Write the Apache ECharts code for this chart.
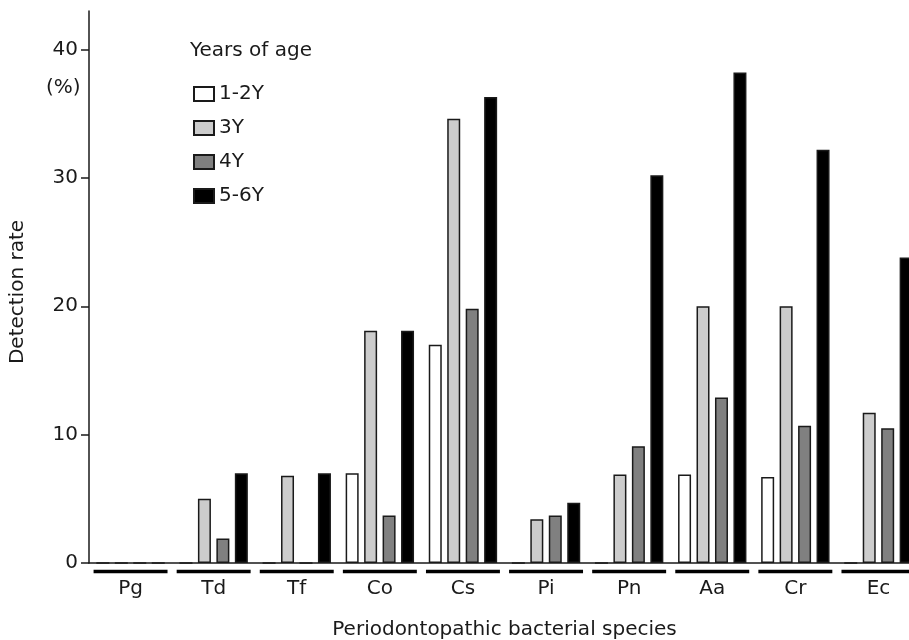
<!DOCTYPE html>
<html>
<head>
<meta charset="utf-8">
<title>Detection rate by age</title>
<script src="https://cdn.jsdelivr.net/npm/echarts@6/dist/echarts.min.js"></script>
<style>
  html, body { margin: 0; padding: 0; background: #fff; }
  #chart { width: 909px; height: 640px; }
</style>
</head>
<body>
<div id="chart"></div>
<script>
// bacterial species (x categories)
var species = ['Pg', 'Td', 'Tf', 'Co', 'Cs', 'Pi', 'Pn', 'Aa', 'Cr', 'Ec'];

// detection rate (%) per age group
var age12 = [0, 0, 0, 7.0, 17.0, 0, 0, 6.9, 6.7, 0];
var age3  = [0, 5.0, 6.8, 18.1, 34.6, 3.4, 6.9, 20.0, 20.0, 11.7];
var age4  = [0, 1.9, 0, 3.7, 19.8, 3.7, 9.1, 12.9, 10.7, 10.5];
var age56 = [0, 7.0, 7.0, 18.1, 36.3, 4.7, 30.2, 38.2, 32.2, 23.8];

var ageNames = ['1-2Y', '3Y', '4Y', '5-6Y'];
var yTicks = [0, 10, 20, 30, 40];

// the original lettering is wide, DejaVu Sans is the closest fit
var fontFamily = '"DejaVu Sans", "Liberation Sans", Arial, sans-serif';
var fontSize = 20;
var ink = '#1a1a1a';

var chart = echarts.init(document.getElementById('chart'));

function barSeries(name, values, fill) {
    return {
        name: name,
        type: 'bar',
        data: values,
        barWidth: 13,
        barGap: '42%',
        itemStyle: {
            color: fill,
            borderColor: ink,
            borderWidth: 1.5
        },
        emphasis: { disabled: true },
        animation: false
    };
}

var option = {
    backgroundColor: '#ffffff',
    textStyle: { fontFamily: fontFamily },
    title: {
        text: 'Years of age',
        left: 190,
        top: 41,
        padding: 0,
        textStyle: {
            fontSize: fontSize,
            fontWeight: 'normal',
            color: ink,
            fontFamily: fontFamily
        }
    },
    legend: {
        data: ageNames,
        orient: 'vertical',
        left: 193,
        top: 84,
        padding: 0,
        itemWidth: 20,
        itemHeight: 14,
        itemGap: 14,
        icon: 'rect',
        selectedMode: false,
        textStyle: {
            fontSize: fontSize,
            color: ink,
            fontFamily: fontFamily
        }
    },
    graphic: [{
        type: 'text',
        left: 46,
        top: 78,
        style: {
            text: '(%)',
            font: fontSize + 'px ' + fontFamily,
            fill: ink
        }
    }],
    grid: {
        left: 89,
        right: -11,
        top: 11,
        bottom: 77,
        containLabel: false,
        outerBoundsMode: 'none'
    },
    xAxis: {
        type: 'category',
        data: species,
        name: 'Periodontopathic bacterial species',
        nameLocation: 'middle',
        nameGap: 57,
        nameTextStyle: { fontSize: fontSize, color: ink },
        axisLine: { lineStyle: { color: ink, width: 1.5 } },
        axisTick: { show: false },
        axisLabel: {
            fontSize: fontSize,
            color: ink,
            margin: 16
        }
    },
    yAxis: {
        type: 'value',
        min: 0,
        max: 43,
        interval: 10,
        name: 'Detection rate',
        nameLocation: 'middle',
        nameGap: 61,
        nameTextStyle: { fontSize: fontSize, color: ink, padding: [0, 0, 0, -10] },
        axisLine: { show: true, lineStyle: { color: ink, width: 1.5 } },
        axisTick: {
            show: true,
            length: 8,
            customValues: yTicks,
            lineStyle: { color: ink, width: 1.5 }
        },
        axisLabel: {
            fontSize: fontSize,
            color: ink,
            margin: 11,
            customValues: yTicks
        },
        splitLine: { show: false }
    },
    series: [
        barSeries(ageNames[0], age12, '#ffffff'),
        barSeries(ageNames[1], age3, '#cccccc'),
        barSeries(ageNames[2], age4, '#808080'),
        barSeries(ageNames[3], age56, '#000000'),
        {
            // thick bar under each species label
            name: 'underline',
            type: 'custom',
            data: species.map(function(s, i) { return [i, 0]; }),
            clip: false,
            silent: true,
            animation: false,
            renderItem: function(params, api) {
                var p = api.coord([api.value(0), 0]);
                var half = api.size([1, 0])[0] * 0.445;
                return {
                    type: 'line',
                    shape: { x1: p[0] - half, y1: p[1] + 8.5, x2: p[0] + half, y2: p[1] + 8.5 },
                    style: { stroke: '#000', lineWidth: 3.3 }
                };
            }
        }
    ]
};

chart.setOption(option);
</script>
</body>
</html>
